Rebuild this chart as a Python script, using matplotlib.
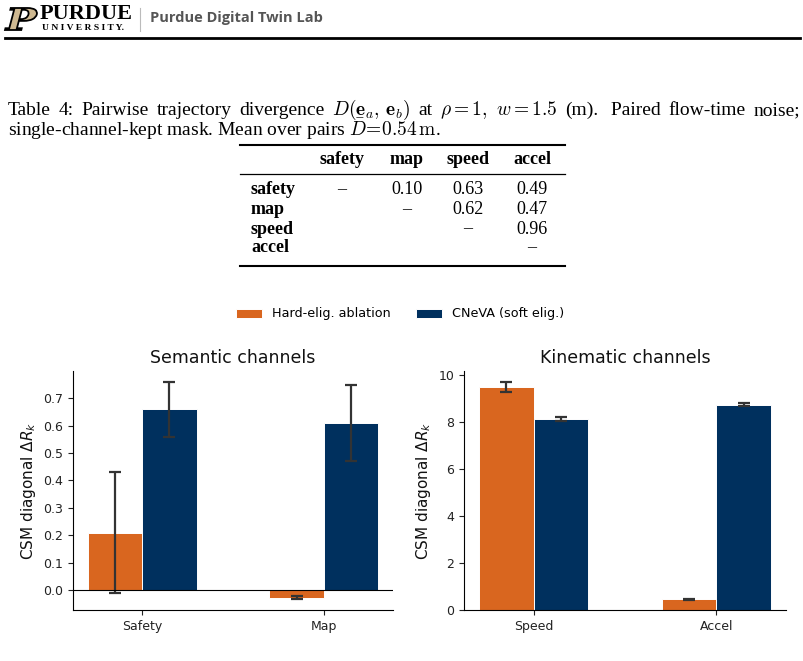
import matplotlib
matplotlib.use("Agg")
import matplotlib.pyplot as plt
from matplotlib.lines import Line2D
from matplotlib.patches import PathPatch
from matplotlib.textpath import TextPath
from matplotlib.font_manager import FontProperties
from matplotlib.transforms import Affine2D
from matplotlib.ticker import MultipleLocator
import numpy as np

# -- data --
table_cols = ["safety", "map", "speed", "accel"]
table_rows = ["safety", "map", "speed", "accel"]
table_cells = [
    ["\u2013", "0.10", "0.63", "0.49"],
    ["", "\u2013", "0.62", "0.47"],
    ["", "", "\u2013", "0.96"],
    ["", "", "", "\u2013"],
]

series_names = ["Hard-elig. ablation", "CNeVA (soft elig.)"]

semantic_labels = ["Safety", "Map"]
semantic_hard = [0.21, -0.028]
semantic_hard_err = [0.22, 0.005]
semantic_soft = [0.66, 0.61]
semantic_soft_err = [0.10, 0.14]

kinematic_labels = ["Speed", "Accel"]
kinematic_hard = [9.47, 0.46]
kinematic_hard_err = [0.20, 0.02]
kinematic_soft = [8.12, 8.73]
kinematic_soft_err = [0.07, 0.08]

ORANGE = "#D9661F"
NAVY = "#00305E"
W, H = 804, 661


def fx(x):
    return x / W


def fy(y):
    return 1 - y / H


fig = plt.figure(figsize=(W / 100, H / 100), dpi=100)
renderer = fig.canvas.get_renderer()

# -- page header: stretched P mark, wordmark, lab name --
p_path = TextPath((0, 0), "P", size=100,
                  prop=FontProperties(family="DejaVu Serif", weight="bold", style="italic"))
bb = p_path.get_extents()
p_tr = Affine2D().translate(-bb.x0, -bb.y0).scale(32 / bb.width, 22 / bb.height).translate(5, H - 30)
logo = PathPatch(p_path, facecolor="#CFB991", edgecolor="black", lw=1.3)
logo.set_transform(p_tr)
fig.add_artist(logo)
fig.text(fx(40), fy(14), "PURDUE", fontsize=16, fontweight="bold",
         family="Liberation Serif", color="black", va="center", ha="left")
fig.text(fx(42), fy(28.5), "U N I V E R S I T Y.", fontsize=6.8, fontweight="bold",
         family="Liberation Serif", color="black", va="center", ha="left")
fig.add_artist(Line2D([fx(140), fx(140)], [fy(8), fy(31)], color="#bbbbbb", lw=0.8))
fig.text(fx(150), fy(18), "Purdue Digital Twin Lab", fontsize=10.5, fontweight="bold",
         family="Open Sans", color="#555555", va="center", ha="left")
fig.add_artist(Line2D([fx(5), fx(800)], [fy(38), fy(38)], color="black", lw=2))

# -- caption (first line justified to the text width, like LaTeX) --
serif = dict(family="Liberation Serif", fontsize=14, color="black", math_fontfamily="cm")
line1 = ["Table", "4:", "Pairwise", "trajectory", "divergence",
         r"$D(\mathbf{e}_a,\, \mathbf{e}_b)$", "at", r"$\rho = 1,$", r"$w = 1.5$",
         "(m).", " Paired", "flow-time", "noise;"]
words = [fig.text(0, fy(115), w_, va="baseline", ha="left", **serif) for w_ in line1]
widths = [t.get_window_extent(renderer).width for t in words]
gap = (800 - 8 - sum(widths)) / (len(words) - 1)
xpos = 8
for t, wd in zip(words, widths):
    t.set_x(fx(xpos))
    xpos += wd + gap
fig.text(fx(8), fy(136),
         r"single-channel-kept mask. Mean over pairs $\bar{D}\!=\!0.54\,\mathrm{m}$.",
         va="baseline", ha="left", **serif)

# -- table --
tserif = dict(serif, fontsize=13)
col_x = [342, 407, 468, 532]
row_y = [190, 210, 229, 248]
fig.add_artist(Line2D([fx(240), fx(565)], [fy(145), fy(145)], color="black", lw=1.5))
fig.add_artist(Line2D([fx(240), fx(565)], [fy(174), fy(174)], color="black", lw=0.9))
fig.add_artist(Line2D([fx(240), fx(565)], [fy(266), fy(266)], color="black", lw=1.5))
for cx, name in zip(col_x, table_cols):
    fig.text(fx(cx), fy(160), name, fontweight="bold", ha="center", va="center", **tserif)
for ry, name, cells in zip(row_y, table_rows, table_cells):
    fig.text(fx(251), fy(ry), name, fontweight="bold", ha="left", va="center", **tserif)
    for cx, val in zip(col_x, cells):
        if val:
            fig.text(fx(cx), fy(ry), val, ha="center", va="center", **tserif)

# -- bar panels --
bar_w = 0.3
err_kw = dict(ecolor="#333333", elinewidth=1.6, capthick=1.6)
ax1 = fig.add_axes([fx(73), fy(610), 320 / W, (610 - 371) / H])
ax2 = fig.add_axes([fx(464), fy(610), 322 / W, (610 - 371) / H])

panels = [
    (ax1, "Semantic channels", semantic_labels, semantic_hard, semantic_hard_err,
     semantic_soft, semantic_soft_err, 0.1),
    (ax2, "Kinematic channels", kinematic_labels, kinematic_hard, kinematic_hard_err,
     kinematic_soft, kinematic_soft_err, 2),
]
handles = []
for ax, title, labels, hard, hard_err, soft, soft_err, step in panels:
    x = np.arange(len(labels))
    b1 = ax.bar(x - bar_w / 2, hard, bar_w, yerr=hard_err, color=ORANGE,
                edgecolor="white", linewidth=0.7, capsize=4, error_kw=err_kw,
                label=series_names[0])
    b2 = ax.bar(x + bar_w / 2, soft, bar_w, yerr=soft_err, color=NAVY,
                edgecolor="white", linewidth=0.7, capsize=4, error_kw=err_kw,
                label=series_names[1])
    handles = [b1, b2]
    ax.set_xticks(x)
    ax.set_xticklabels(labels)
    ax.yaxis.set_major_locator(MultipleLocator(step))
    ax.set_title(title, fontsize=12.5, color="#111111")
    ax.set_ylabel(r"CSM diagonal $\Delta R_k$", fontsize=11, color="#111111")
    ax.tick_params(labelsize=9, colors="#222222")
    for side in ("top", "right"):
        ax.spines[side].set_visible(False)

ax1.axhline(0, color="black", lw=0.8)

fig.legend(handles, series_names, loc="center", bbox_to_anchor=(fx(400), fy(314)),
           ncol=2, frameon=False, fontsize=9.2)

fig.savefig("out.png", dpi=100)
